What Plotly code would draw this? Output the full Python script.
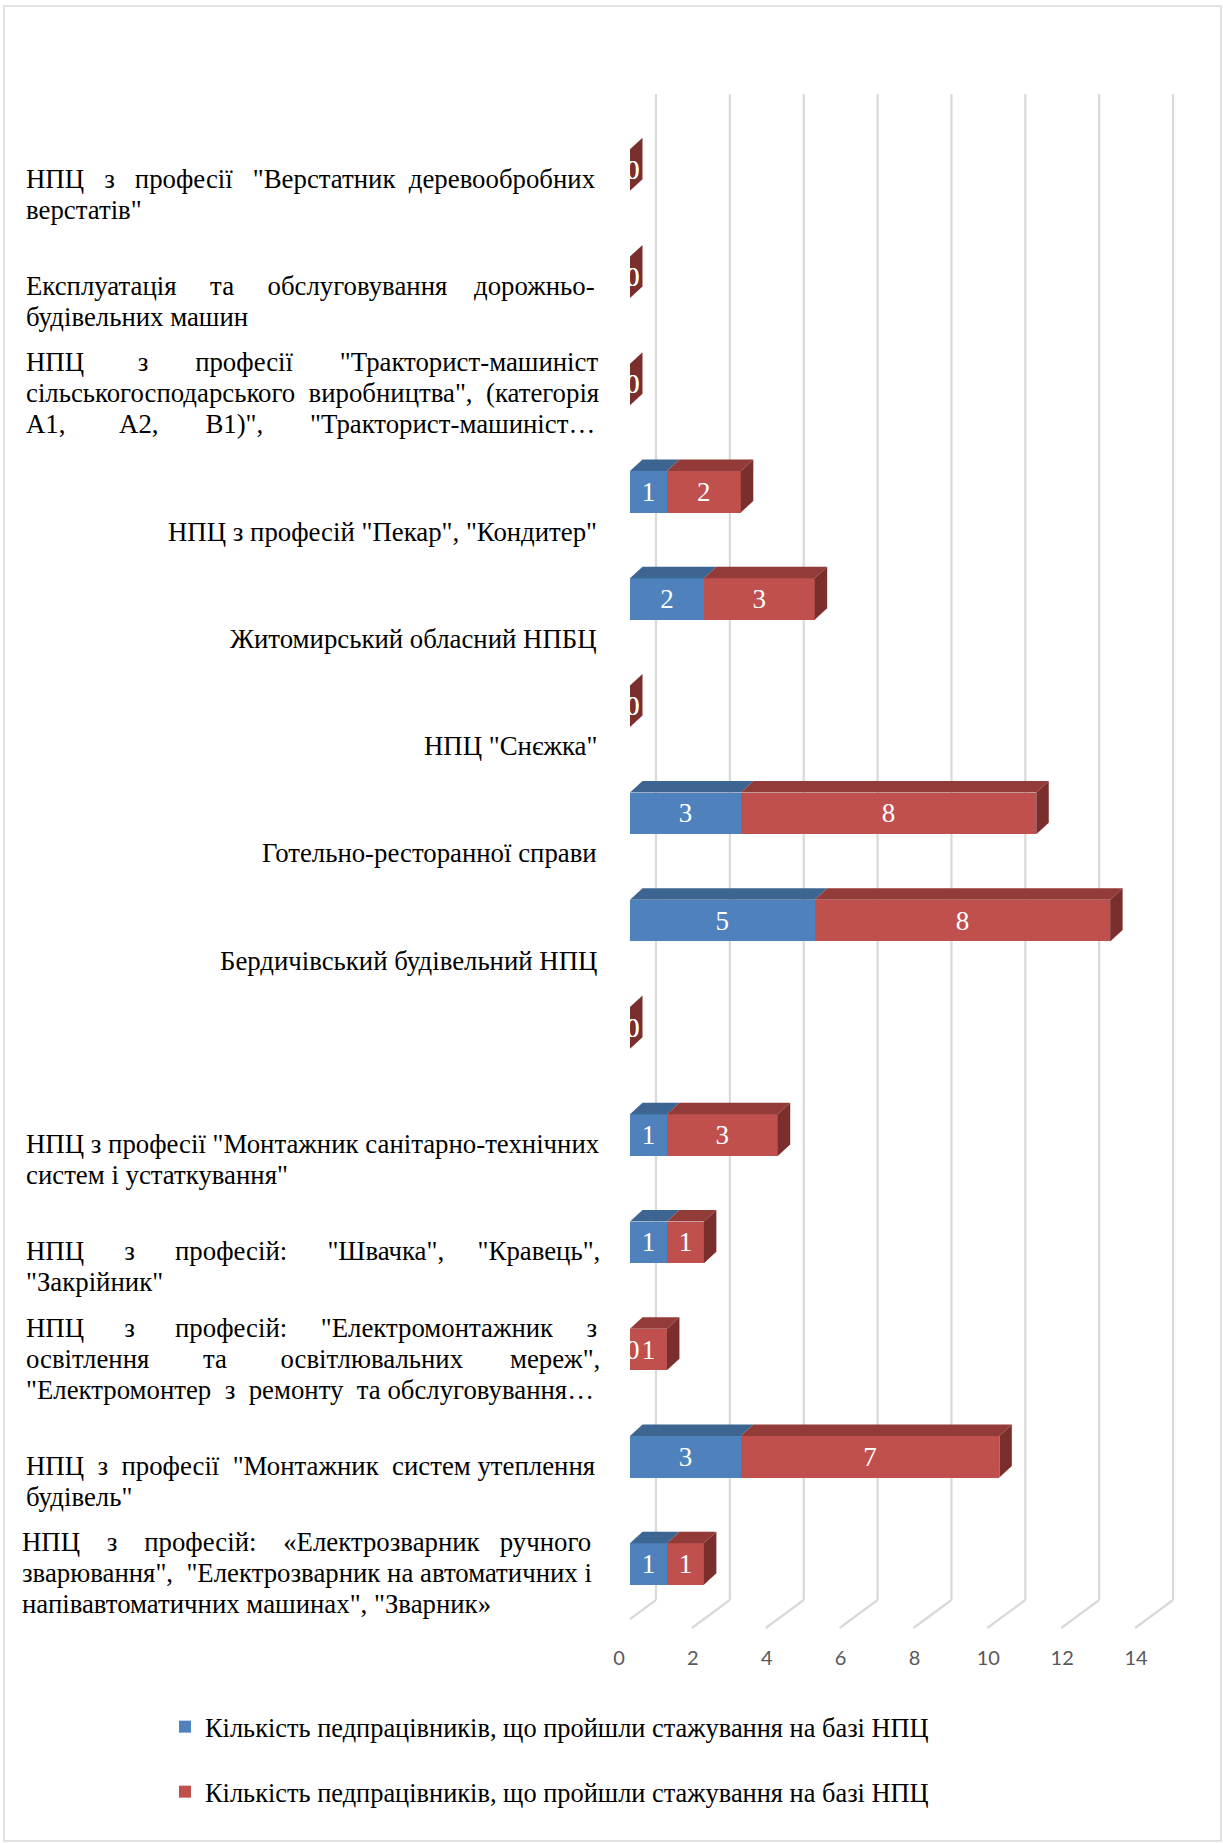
import plotly.graph_objects as go

# ---------------- data ----------------
categories = [
    'НПЦ з професії "Верстатник деревообробних верстатів"',
    'Експлуатація та обслуговування дорожньо-будівельних машин',
    'НПЦ з професії "Тракторист-машиніст сільськогосподарського виробництва", (категорія А1, А2, В1)", "Тракторист-машиніст…',
    'НПЦ з професій "Пекар", "Кондитер"',
    'Житомирський обласний НПБЦ',
    'НПЦ "Снєжка"',
    'Готельно-ресторанної справи',
    'Бердичівський будівельний НПЦ',
    '',
    'НПЦ з професії "Монтажник санітарно-технічних систем і устаткування"',
    'НПЦ з професій: "Швачка", "Кравець", "Закрійник"',
    'НПЦ з професій: "Електромонтажник з освітлення та освітлювальних мереж", "Електромонтер з ремонту та обслуговування…',
    'НПЦ з професії "Монтажник систем утеплення будівель"',
    'НПЦ з професій: «Електрозварник ручного зварювання", "Електрозварник на автоматичних і напівавтоматичних машинах", "Зварник»',
]
series1_values = [0, 0, 0, 1, 2, 0, 3, 5, 0, 1, 1, 0, 3, 1]
series2_values = [0, 0, 0, 2, 3, 0, 8, 8, 0, 3, 1, 1, 7, 1]
series_names = [
    "Кількість педпрацівників, що пройшли стажування на базі НПЦ",
    "Кількість педпрацівників, що пройшли стажування на базі НПЦ",
]
x_tick_values = [0, 2, 4, 6, 8, 10, 12, 14]
x_tick_labels = ["0", "2", "4", "6", "8", "10", "12", "14"]

# displayed line breaks of the category labels (text layout);
# second item = extra non-breaking spaces used to emulate justified text
label_lines = [
    [('НПЦ з професії "Верстатник деревообробних', 7), ('верстатів"', 0)],
    [('Експлуатація та обслуговування дорожньо-', 11), ('будівельних машин', 0)],
    [('НПЦ з професії "Тракторист-машиніст', 19), ('сільськогосподарського виробництва", (категорія', 2),
     ('А1, А2, В1)", "Тракторист-машиніст…', 19)],
    [('НПЦ з професій "Пекар", "Кондитер"', None)],
    [('Житомирський обласний НПБЦ', None)],
    [('НПЦ "Снєжка"', None)],
    [('Готельно-ресторанної справи', None)],
    [('Бердичівський будівельний НПЦ', None)],
    [('', None)],
    [('НПЦ з професії "Монтажник санітарно-технічних', 0), ('систем і устаткування"', 0)],
    [('НПЦ з професій: "Швачка", "Кравець",', 19), ('"Закрійник"', 0)],
    [('НПЦ з професій: "Електромонтажник з', 18), ('освітлення та освітлювальних мереж",', 20),
     ('"Електромонтер з ремонту та обслуговування…', 3)],
    [('НПЦ з професії "Монтажник систем утеплення', 4), ('будівель"', 0)],
    [('НПЦ з професій: «Електрозварник ручного', 11), ('зварювання", "Електрозварник на автоматичних і', 1),
     ('напівавтоматичних машинах", "Зварник»', 0)],
]

# ---------------- layout geometry ----------------
W, H = 1223, 1843
PL, PR, PT, PB = 630, 1184, 94, 1626
X_MAX = 15
Y_TOP, Y_BOT = -0.709, 13.578
ux = (PR - PL) / X_MAX
uy = (PB - PT) / (Y_BOT - Y_TOP)


def pxx(px):
    return (px - PL) / (PR - PL)


def pxy(py):
    return (PB - py) / (PB - PT)


def justify(text, extra):
    words = text.split(" ")
    gaps = len(words) - 1
    if gaps <= 0 or not extra:
        return text.replace(" ", "\u00a0")
    base, rem = divmod(extra, gaps)
    out = words[0]
    for g in range(gaps):
        n = 1 + base + (1 if g < rem else 0)
        out += "\u00a0" * n + words[g + 1]
    return out


BLUE, BLUE_TOP = "#4F81BD", "#3D6592"
RED, RED_TOP, RED_SIDE = "#C0504D", "#923B39", "#7A2F2D"
BAR_W = 0.388
DX = 12.5 / ux
DY = 11.5 / uy
GRID_BACK = 26 / ux
GRID_FRONT = -12 / ux
SERIF = "Liberation Serif"
FS = 26.8
LEG_FS = 26.4

ypos = list(range(len(categories)))

fig = go.Figure()
fig.add_trace(go.Bar(
    y=ypos, x=series1_values, orientation="h", width=BAR_W, name=series_names[0],
    marker=dict(color=BLUE, line=dict(width=0)),
    text=[str(v) if v else "" for v in series1_values], textposition="inside",
    insidetextanchor="middle", textangle=0,
    textfont=dict(color="white", size=27, family=SERIF), legend="legend",
    hoverinfo="x+name",
))
fig.add_trace(go.Bar(
    y=ypos, x=series2_values, orientation="h", width=BAR_W, name=series_names[1],
    marker=dict(color=RED, line=dict(width=0)),
    text=[str(v) if v else "" for v in series2_values], textposition="inside",
    insidetextanchor="middle", textangle=0,
    textfont=dict(color="white", size=27, family=SERIF), legend="legend2",
    hoverinfo="x+name",
))

shapes = []
# gridlines with 3D floor diagonals
for v in x_tick_values:
    shapes.append(dict(type="line", xref="x", yref="paper", x0=v + GRID_BACK, x1=v + GRID_BACK,
                       y0=pxy(1600), y1=1, line=dict(color="#D9D9D9", width=2.2), layer="below"))
    shapes.append(dict(type="line", xref="x", yref="paper", x0=v + GRID_BACK, x1=v + GRID_FRONT,
                       y0=pxy(1600), y1=pxy(1628), line=dict(color="#D9D9D9", width=2.2), layer="below"))

annotations = []
# 3D faces of bars
for i, (a, b) in enumerate(zip(series1_values, series2_values)):
    yt = i - BAR_W / 2
    yb = i + BAR_W / 2
    segs = [(0, a, BLUE_TOP), (a, a + b, RED_TOP)]
    for s0, s1, col in segs:
        if s1 > s0:
            shapes.append(dict(type="path", xref="x", yref="y",
                               path=f"M {s0},{yt} L {s1},{yt} L {s1 + DX},{yt - DY} L {s0 + DX},{yt - DY} Z",
                               fillcolor=col, line=dict(width=0), layer="above"))
    end = a + b
    shapes.append(dict(type="path", xref="x", yref="y",
                       path=f"M {end},{yt} L {end + DX},{yt - DY} L {end + DX},{yb - DY} L {end},{yb} Z",
                       fillcolor=RED_SIDE, line=dict(width=0), layer="above"))
    # zero-value data labels (white, mostly hidden like in the original)
    for s0, val in ((0, a), (a, b)):
        if val == 0:
            annotations.append(dict(x=s0, y=i, xref="x", yref="y", text="0", showarrow=False,
                                    xanchor="center", yanchor="middle", xshift=3,
                                    font=dict(color="white", size=27, family=SERIF)))

# category labels
LINE_H = 31
for i, lines in enumerate(label_lines):
    n = len(lines)
    for k, (line, extra) in enumerate(lines):
        if not line:
            continue
        shift = -(40 - LINE_H * (n - 1 - k))
        if extra is None:
            annotations.append(dict(x=pxx(599), xref="paper", y=i, yref="y", yshift=shift,
                                    text=line.replace(" ", "\u00a0"), showarrow=False,
                                    xanchor="right", yanchor="middle",
                                    font=dict(size=FS, family=SERIF, color="black")))
        else:
            left = 20 if i == 13 else 24
            annotations.append(dict(x=pxx(left), xref="paper", y=i, yref="y", yshift=shift,
                                    text=justify(line, extra), showarrow=False, xanchor="left",
                                    yanchor="middle",
                                    font=dict(size=FS, family=SERIF, color="black")))

# outer frame
shapes.append(dict(type="rect", xref="paper", yref="paper", x0=pxx(4), x1=pxx(1221), y0=pxy(1841),
                   y1=pxy(6), line=dict(color="#D9D9D9", width=1.5), layer="below"))

fig.update_layout(
    width=W, height=H, barmode="stack",
    margin=dict(l=PL, r=W - PR, t=PT, b=H - PB, pad=0),
    paper_bgcolor="white", plot_bgcolor="rgba(0,0,0,0)",
    xaxis=dict(range=[0, X_MAX], tickvals=x_tick_values, ticktext=x_tick_labels,
               showgrid=False, zeroline=False, showline=False, ticks="",
               ticklabelshift=-11, ticklabelstandoff=18,
               tickfont=dict(family="Lato", size=20, color="#595959")),
    yaxis=dict(range=[Y_BOT, Y_TOP], showticklabels=False, showgrid=False, zeroline=False,
               showline=False, ticks=""),
    shapes=shapes, annotations=annotations,
    legend=dict(x=pxx(165), xanchor="left", y=pxy(1727), yanchor="middle",
                font=dict(size=LEG_FS, family=SERIF, color="black"), bgcolor="rgba(0,0,0,0)"),
    legend2=dict(x=pxx(165), xanchor="left", y=pxy(1792), yanchor="middle",
                 font=dict(size=LEG_FS, family=SERIF, color="black"), bgcolor="rgba(0,0,0,0)"),
    showlegend=True,
)

fig.write_html("out.html", config={"displayModeBar": False},
               post_script="document.body.style.margin='0';document.body.style.overflow='hidden';")
